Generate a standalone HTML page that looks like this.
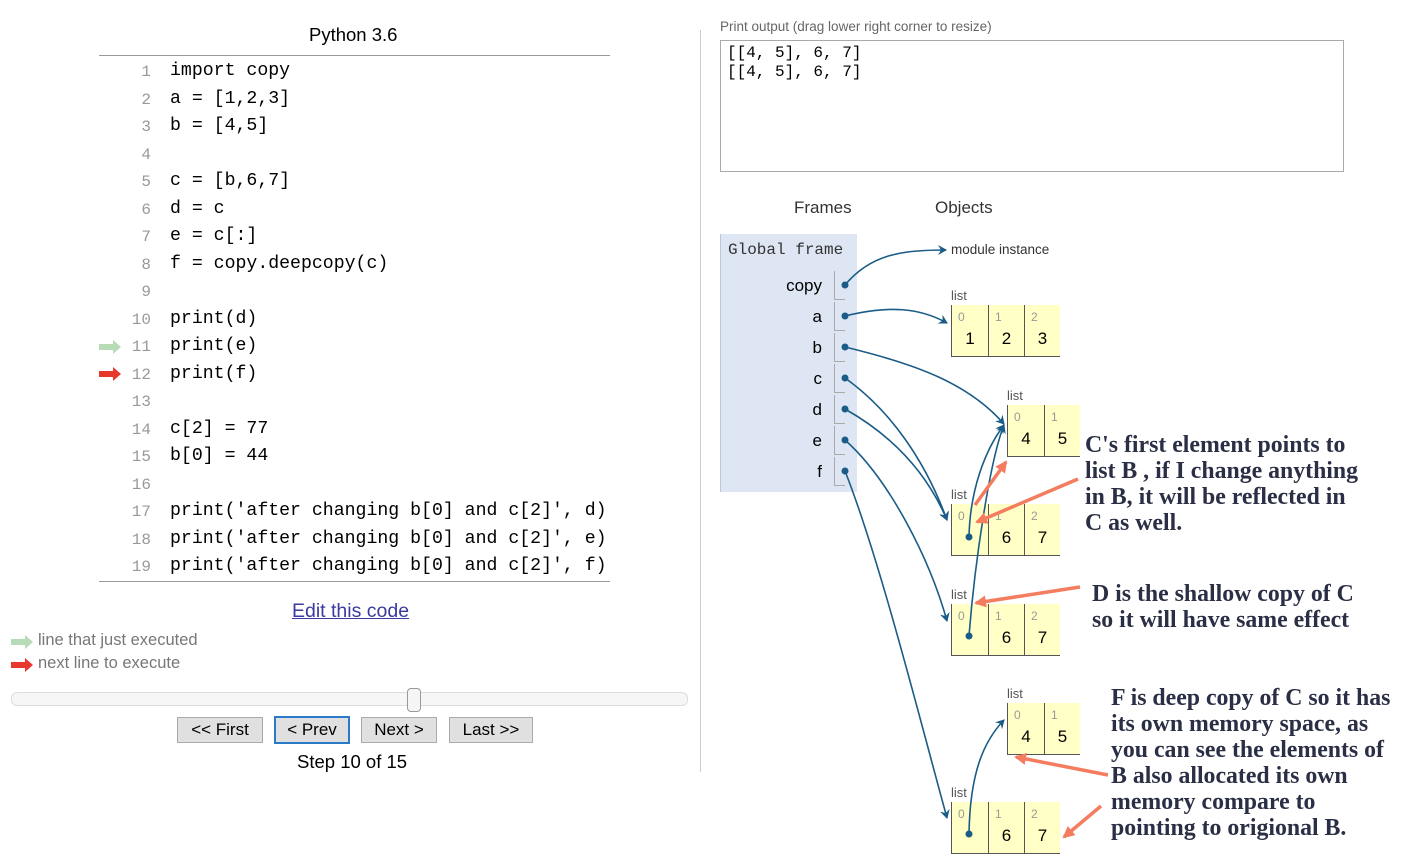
<!DOCTYPE html>
<html><head><meta charset="utf-8"><style>
body{margin:0;width:1411px;height:866px;background:#fff;position:relative;overflow:hidden;font-family:"Liberation Sans",sans-serif}
.a{position:absolute;white-space:pre}
.code{font-family:"Liberation Mono",monospace;font-size:18.2px;color:#000}
.ln{font-family:"Liberation Mono",monospace;font-size:16px;color:#999;text-align:right;width:40px}
.btn{position:absolute;top:717px;height:24px;background:#e0e0e0;border:1px solid #aaa;font-size:17px;text-align:center;line-height:24px;color:#000}
.lst{position:absolute;display:flex;background:#ffffc6}
.cell{border-left:1px solid #555;border-bottom:1px solid #555;height:52px;position:relative;box-sizing:border-box}
.cell .i{position:absolute;left:6px;top:5px;font-size:12px;color:#999}
.cell .v{position:absolute;left:0;right:0;top:24px;text-align:center;font-size:17px}
.lab{position:absolute;font-size:13px;color:#555}
.var{position:absolute;font-size:17px;text-align:right;width:60px}
.ann{position:absolute;font-family:"Liberation Serif",serif;font-weight:bold;font-size:23.8px;color:#2b2f45;line-height:26px;white-space:pre}
</style></head><body>
<div class="a" style="left:309px;top:24px;font-size:18.5px">Python 3.6</div>
<div class="a" style="left:99px;top:55px;width:511px;border-top:1px solid #999"></div>
<div class="a" style="left:99px;top:581px;width:511px;border-top:1px solid #999"></div>
<div id="code"></div>
<svg class="a" style="left:99px;top:340px" width="24" height="14"><path d="M0 4h14V0l8 7-8 7v-4H0z" fill="#b7dbb7"/></svg>
<svg class="a" style="left:99px;top:367px" width="24" height="14"><path d="M0 4h14V0l8 7-8 7v-4H0z" fill="#e8382e"/></svg>
<div class="a" style="left:292px;top:600px;font-size:19.5px;color:#3a3aa0;text-decoration:underline">Edit this code</div>
<svg class="a" style="left:11px;top:635px" width="24" height="14"><path d="M0 4h14V0l8 7-8 7v-4H0z" fill="#b7dbb7"/></svg>
<div class="a" style="left:38px;top:631px;font-size:16.5px;color:#777">line that just executed</div>
<svg class="a" style="left:11px;top:658px" width="24" height="14"><path d="M0 4h14V0l8 7-8 7v-4H0z" fill="#e8382e"/></svg>
<div class="a" style="left:38px;top:654px;font-size:16.5px;color:#777">next line to execute</div>
<div class="a" style="left:11px;top:692px;width:675px;height:12px;border:1px solid #ddd;border-radius:6px;background:#f6f6f6"></div>
<div class="a" style="left:407px;top:688px;width:12px;height:22px;border:1px solid #999;border-radius:4px;background:#f5f5f5"></div>
<div class="btn" style="left:177px;width:84px">&lt;&lt; First</div>
<div class="btn" style="left:274px;width:72px;border:2px solid #2a7ac8;top:716px">&lt; Prev</div>
<div class="btn" style="left:361px;width:74px">Next &gt;</div>
<div class="btn" style="left:449px;width:82px">Last &gt;&gt;</div>
<div class="a" style="left:297px;top:751px;font-size:18.5px">Step 10 of 15</div>
<div class="a" style="left:700px;top:30px;height:742px;border-left:1px solid #ccc"></div>

<div class="a" style="left:720px;top:19px;font-size:13.5px;color:#666">Print output (drag lower right corner to resize)</div>
<div class="a" style="left:720px;top:40px;width:622px;height:130px;border:1px solid #aaa"></div>
<div class="a code" style="left:727px;top:44px;font-size:16px;line-height:19px">[[4, 5], 6, 7]
[[4, 5], 6, 7]</div>
<div class="a" style="left:794px;top:198px;font-size:17px;color:#333">Frames</div>
<div class="a" style="left:935px;top:198px;font-size:17px;color:#333">Objects</div>
<div class="a" style="left:720px;top:234px;width:136px;height:258px;background:#dde6f2;border-left:1px solid #b8c8dc"></div>
<div class="a code" style="left:728px;top:241px;color:#333;font-size:16px">Global frame</div>
<div id="vars"></div>
<div class="a" style="left:951px;top:242px;font-size:13.5px;color:#333">module instance</div>
<div id="lists"></div>

<svg class="a" style="left:0;top:0" width="1411" height="866">
<defs>
<marker id="m" markerWidth="10" markerHeight="10" refX="8" refY="5" orient="auto" markerUnits="userSpaceOnUse"><path d="M0 0L9 5L0 10L3 5z" fill="#1a5c87"/></marker>
<marker id="s" markerWidth="14" markerHeight="14" refX="10" refY="7" orient="auto" markerUnits="userSpaceOnUse"><path d="M0 1L12 7L0 13z" fill="#f47c5f"/></marker>
</defs>
<g fill="none" stroke="#1a5c87" stroke-width="1.6" marker-end="url(#m)">
<path d="M845 285C870 255 900 250 946 250"/>
<path d="M845 316C890 305 920 308 947 323"/>
<path d="M845 347C920 365 970 385 1004 424"/>
<path d="M845 378C890 410 925 460 947 520"/>
<path d="M845 409C900 440 930 480 947 520"/>
<path d="M845 440C890 480 930 560 947 621"/>
<path d="M845 471C880 560 920 720 947 818"/>
<path d="M969 537C970 490 985 450 1004 425"/>
<path d="M969 636C975 560 990 460 1004 425"/>
<path d="M969 834C970 770 985 740 1004 720"/>
</g>
<g fill="#1a5c87"><circle cx="845" cy="285" r="3.5"/><circle cx="845" cy="316" r="3.5"/><circle cx="845" cy="347" r="3.5"/><circle cx="845" cy="378" r="3.5"/><circle cx="845" cy="409" r="3.5"/><circle cx="845" cy="440" r="3.5"/><circle cx="845" cy="471" r="3.5"/><circle cx="969" cy="537" r="3.5"/><circle cx="969" cy="636" r="3.5"/><circle cx="969" cy="834" r="3.5"/></g>
<g stroke="#f47c5f" stroke-width="3.5" marker-end="url(#s)">
<line x1="975" y1="505" x2="1006" y2="462"/>
<line x1="1078" y1="479" x2="977" y2="522"/>
<line x1="1080" y1="587" x2="976" y2="603"/>
<line x1="1108" y1="775" x2="1016" y2="757"/>
<line x1="1101" y1="806" x2="1064" y2="837"/>
</g>
</svg>

<div class="ann" style="left:1085px;top:432px">C's first element points to
list B , if I change anything
in B, it will be reflected in
C as well.</div>
<div class="ann" style="left:1092px;top:581px">D is the shallow copy of C
so it will have same effect</div>
<div class="ann" style="left:1111px;top:685px">F is deep copy of C so it has
its own memory space, as
you can see the elements of
B also allocated its own
memory compare to
pointing to origional B.</div>

<script>
var code=["import copy","a = [1,2,3]","b = [4,5]","","c = [b,6,7]","d = c","e = c[:]","f = copy.deepcopy(c)","","print(d)","print(e)","print(f)","","c[2] = 77","b[0] = 44","","print('after changing b[0] and c[2]', d)","print('after changing b[0] and c[2]', e)","print('after changing b[0] and c[2]', f)"];
var h="";code.forEach(function(c,i){var y=62+i*27.5;h+='<div class="a ln" style="left:111px;top:'+(y+1)+'px">'+(i+1)+'</div><div class="a code" style="left:170px;top:'+(y-1)+'px">'+c+'</div>';});
document.getElementById("code").innerHTML=h;
var vs=["copy","a","b","c","d","e","f"];h="";
vs.forEach(function(v,i){var y=286+i*31;h+='<div class="var" style="left:762px;top:'+(y-10)+'px">'+v+'</div><div class="a" style="left:834px;top:'+(y-15)+'px;width:10px;height:28px;border-left:1px solid #aaa;border-bottom:1px solid #aaa"></div>';});
document.getElementById("vars").innerHTML=h;
var L=[[951,305,["1","2","3"]],[1007,405,["4","5"]],[951,504,["","6","7"]],[951,604,["","6","7"]],[1007,703,["4","5"]],[951,802,["","6","7"]]];h="";
L.forEach(function(l){h+='<div class="lab" style="left:'+l[0]+'px;top:'+(l[1]-17)+'px">list</div><div class="lst" style="left:'+l[0]+'px;top:'+l[1]+'px">';l[2].forEach(function(v,i){h+='<div class="cell" style="width:'+(i==0?37:36)+'px"><span class="i">'+i+'</span><span class="v">'+v+'</span></div>';});h+='</div>';});
document.getElementById("lists").innerHTML=h;
</script>
</body></html>
